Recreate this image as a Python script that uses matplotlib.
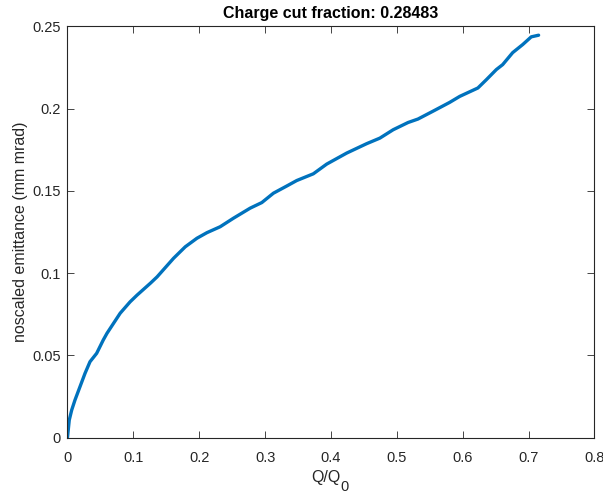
import matplotlib
matplotlib.use("Agg")
import matplotlib.pyplot as plt

plt.rcParams["font.family"] = ["Liberation Sans", "DejaVu Sans"]

# charge fraction Q/Q0 and corresponding unscaled emittance (mm mrad)
q_frac = [0.0, 0.0027, 0.0064, 0.0114, 0.019, 0.0266, 0.0342, 0.0443, 0.0543,
          0.060, 0.080, 0.095, 0.1056, 0.126, 0.136, 0.161, 0.1788, 0.1965,
          0.2117, 0.2318, 0.252, 0.2773, 0.295, 0.3126, 0.333, 0.348, 0.3732,
          0.3935, 0.4238, 0.454, 0.4742, 0.4944, 0.517, 0.532, 0.5545, 0.580,
          0.5955, 0.623, 0.636, 0.651, 0.6606, 0.6758, 0.691, 0.704, 0.71517]
emittance = [0.0, 0.0106, 0.0167, 0.0228, 0.0309, 0.039, 0.0461, 0.0512, 0.0593,
             0.0634, 0.0756, 0.0825, 0.0866, 0.0939, 0.0977, 0.109, 0.116, 0.1212,
             0.1246, 0.1282, 0.1334, 0.1395, 0.1429, 0.1486, 0.1530, 0.1563, 0.1604,
             0.1663, 0.173, 0.1787, 0.1821, 0.1872, 0.1916, 0.1937, 0.1984, 0.2038,
             0.2075, 0.2126, 0.2177, 0.2238, 0.2268, 0.2341, 0.239, 0.2437, 0.2447]
cut_fraction = 0.28483

xticks = [0, 0.1, 0.2, 0.3, 0.4, 0.5, 0.6, 0.7, 0.8]
xticklabels = ["0", "0.1", "0.2", "0.3", "0.4", "0.5", "0.6", "0.7", "0.8"]
yticks = [0, 0.05, 0.1, 0.15, 0.2, 0.25]
yticklabels = ["0", "0.05", "0.1", "0.15", "0.2", "0.25"]

axcol = "#262626"

fig = plt.figure(figsize=(6.03, 4.97), dpi=100)
ax = fig.add_axes([0.1119, 0.1197, 0.874, 0.827])
ax.plot(q_frac, emittance, color="#0072BD", linewidth=2.4, solid_capstyle="round")

ax.set_xlim(0, 0.8)
ax.set_ylim(0, 0.25)
ax.set_xticks(xticks)
ax.set_xticklabels(xticklabels)
ax.set_yticks(yticks)
ax.set_yticklabels(yticklabels)
ax.tick_params(direction="in", length=5, width=0.6, colors=axcol,
               labelsize=10.5, top=True, right=True, pad=5)
ax.tick_params(axis="x", pad=10)
for sp in ax.spines.values():
    sp.set_color(axcol)
    sp.set_linewidth(0.8)

# x label: Q/Q with a large, low subscript 0
xl = ax.set_xlabel("Q/Q", fontsize=11.5, color=axcol)
ax.xaxis.set_label_coords(0.4896, -0.079)
ax.annotate("0", xy=(1.0, 0.0), xycoords=xl, xytext=(0.5, 3.5),
            textcoords="offset points", ha="left", va="top",
            fontsize=10.5, color=axcol)

ax.set_ylabel("noscaled emittance (mm mrad)", fontsize=11.5, color=axcol, labelpad=3)
ax.set_title(f"Charge cut fraction: {cut_fraction}", fontsize=11.5,
             fontweight="bold", color="black", pad=6)

fig.savefig("out.png", dpi=100)
